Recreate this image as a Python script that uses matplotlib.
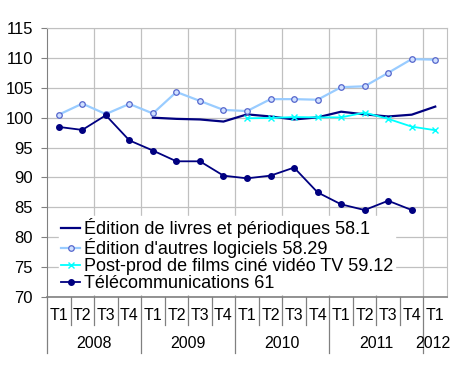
import numpy as np
import matplotlib
matplotlib.use("Agg")
import matplotlib.pyplot as plt

plt.rcParams["font.family"] = ["Liberation Sans", "DejaVu Sans"]

quarters = ["T1", "T2", "T3", "T4"] * 4 + ["T1"]
years = ["2008", "2009", "2010", "2011", "2012"]

livres = [np.nan] * 4 + [100.0, 99.8, 99.7, 99.35, 100.55, 100.2, 99.7, 100.05,
                         101.0, 100.55, 100.2, 100.5, 101.85]
logiciels = [100.5, 102.35, 100.6, 102.3, 100.7, 104.3, 102.8, 101.3, 101.1,
             103.1, 103.1, 103.0, 105.1, 105.25, 107.5, 109.8, 109.7]
postprod = [np.nan] * 8 + [99.9, 99.95, 100.1, 100.05, 100.05, 100.85, 99.8, 98.5, 97.9]
telecom = [98.45, 97.95, 100.4, 96.2, 94.5, 92.7, 92.7, 90.3, 89.85, 90.3, 91.65,
           87.5, 85.5, 84.55, 86.1, 84.55, np.nan]

labels = ["Édition de livres et périodiques 58.1",
          "Édition d'autres logiciels 58.29",
          "Post-prod de films ciné vidéo TV 59.12",
          "Télécommunications 61"]

x = np.arange(len(quarters))

fig = plt.figure(figsize=(4.5, 3.65), dpi=100)
ax = fig.add_axes([47 / 450, 1 - 297 / 365, 400 / 450, 269 / 365])

ax.plot(x, livres, color="#000080", lw=1.6, label=labels[0])
ax.plot(x, logiciels, color="#99ccff", lw=1.6, marker="o", ms=4,
        mfc="#d0e0ff", mec="#5566cc", mew=0.9, label=labels[1])
ax.plot(x, postprod, color="#00ffff", lw=1.3, marker="x", ms=5,
        mew=1.0, label=labels[2])
ax.plot(x, telecom, color="#000080", lw=1.3, marker="o", ms=4,
        label=labels[3])

ax.set_xlim(-0.5, len(quarters) - 0.5)
ax.set_ylim(70, 115)
ax.set_yticks(np.arange(70, 116, 5))
ax.tick_params(axis="y", labelsize=12, length=4, color="#808080", pad=6)
ax.set_xticks([])
ax.set_xticks(np.arange(1.5, len(quarters) - 1, 2), minor=True)
ax.tick_params(axis="x", which="minor", length=0)
ax.grid(True, axis="y", color="#c0c0c0", lw=0.9)
ax.grid(True, axis="x", which="minor", color="#c0c0c0", lw=0.9)
ax.set_axisbelow(True)
for s in ["top", "right"]:
    ax.spines[s].set_color("#c0c0c0")
ax.spines["left"].set_color("#808080")
ax.spines["bottom"].set_color("#808080")
ax.spines["bottom"].set_linewidth(1.2)

# category axis: quarters, years and separators
tr = ax.get_xaxis_transform()
px = 1 / 269
for i, q in enumerate(quarters):
    ax.text(i, -18 * px, q, transform=tr, ha="center", va="center", fontsize=11.5)
for k, yr in enumerate(years):
    ax.text(4 * k + 1.5 if k < 4 else 15.88, -47 * px, yr, transform=tr,
            ha="center", va="center", fontsize=11.5)
for i in range(len(quarters)):
    b = i - 0.5
    long_line = i % 4 == 0
    ax.plot([b, b], [0, (-56 if long_line else -28) * px], transform=tr,
            color="#808080", lw=0.9, clip_on=False)

leg = ax.legend(loc="lower left", bbox_to_anchor=(0.025, 0.005), fontsize=13,
                frameon=True, fancybox=False, framealpha=1, edgecolor="white",
                labelspacing=0.0, handlelength=1.1, handletextpad=0.2,
                borderpad=0.1, borderaxespad=0.1)

fig.savefig("out.png", dpi=100)
